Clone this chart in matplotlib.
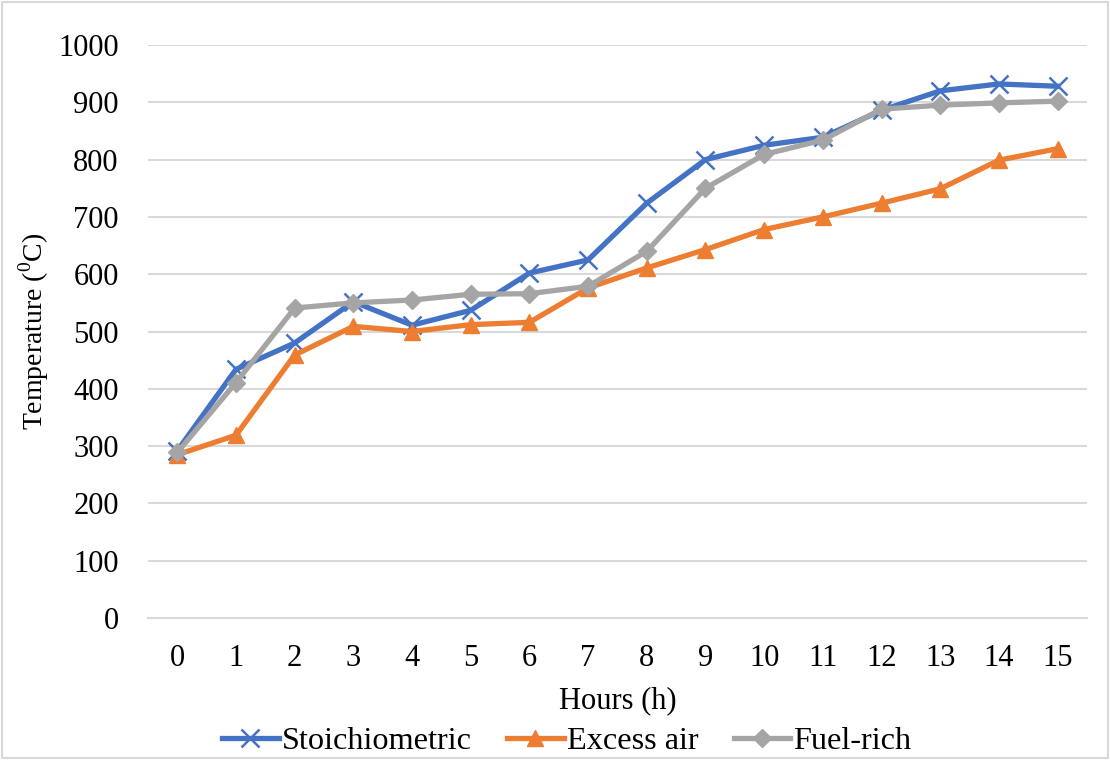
import matplotlib.pyplot as plt
from matplotlib.patches import Rectangle

plt.rcParams['font.family'] = ['Liberation Serif', 'DejaVu Serif']
plt.rcParams['mathtext.fontset'] = 'custom'
plt.rcParams['mathtext.rm'] = 'Liberation Serif'

hours = list(range(16))
stoichiometric = [292, 434, 480, 552, 511, 537, 602, 625, 724, 800, 825, 839, 886, 920, 932, 928]
excess_air = [285, 319, 459, 509, 500, 512, 516, 576, 611, 643, 678, 700, 724, 749, 799, 819]
fuel_rich = [289, 411, 541, 550, 555, 565, 566, 579, 640, 750, 809, 834, 888, 895, 899, 902]

fig = plt.figure(figsize=(11.1, 7.6), dpi=100)
ax = fig.add_axes([0.1333, 0.1868, 0.8459, 0.754])

ax.plot(hours, stoichiometric, color='#4472c4', lw=3.8, marker='x', ms=13, mew=1.8,
        label='Stoichiometric', zorder=3)
ax.plot(hours, excess_air, color='#ed7d31', lw=3.8, marker='^', ms=12,
        label='Excess air', zorder=3)
ax.plot(hours, fuel_rich, color='#a5a5a5', lw=3.8, marker='D', ms=9,
        label='Fuel-rich', zorder=3)

ax.set_xlim(-0.5, 15.5)
ax.set_ylim(0, 1000)
ax.set_xticks(hours)
ax.set_yticks(range(0, 1001, 100))
ax.grid(axis='y', color='#d9d9d9', lw=1.5)
ax.set_axisbelow(True)
for s in ['top', 'right', 'left']:
    ax.spines[s].set_visible(False)
ax.spines['bottom'].set_color('#d9d9d9')
ax.spines['bottom'].set_linewidth(1.5)
ax.tick_params(length=0, labelsize=22)
ax.tick_params(axis='y', pad=21)
ax.tick_params(axis='x', pad=19)

ax.set_xlabel('Hours (h)', fontsize=22, labelpad=9)
ax.set_ylabel(r'Temperature ($^{\mathrm{0}}$C)', fontsize=20, labelpad=5)

ax.legend(loc='center left', bbox_to_anchor=(0.079, -0.215), ncol=3, frameon=False,
          prop={'family': ['Liberation Serif', 'DejaVu Serif'], 'size': 23.2},
          handlelength=1.75, handletextpad=0.1, columnspacing=1.1,
          borderaxespad=0, borderpad=0)

fig.patches.append(Rectangle((0.002, 0.002), 0.996, 0.996, transform=fig.transFigure,
                             fill=False, edgecolor='#d9d9d9', lw=1.5))

plt.savefig('out.png')
